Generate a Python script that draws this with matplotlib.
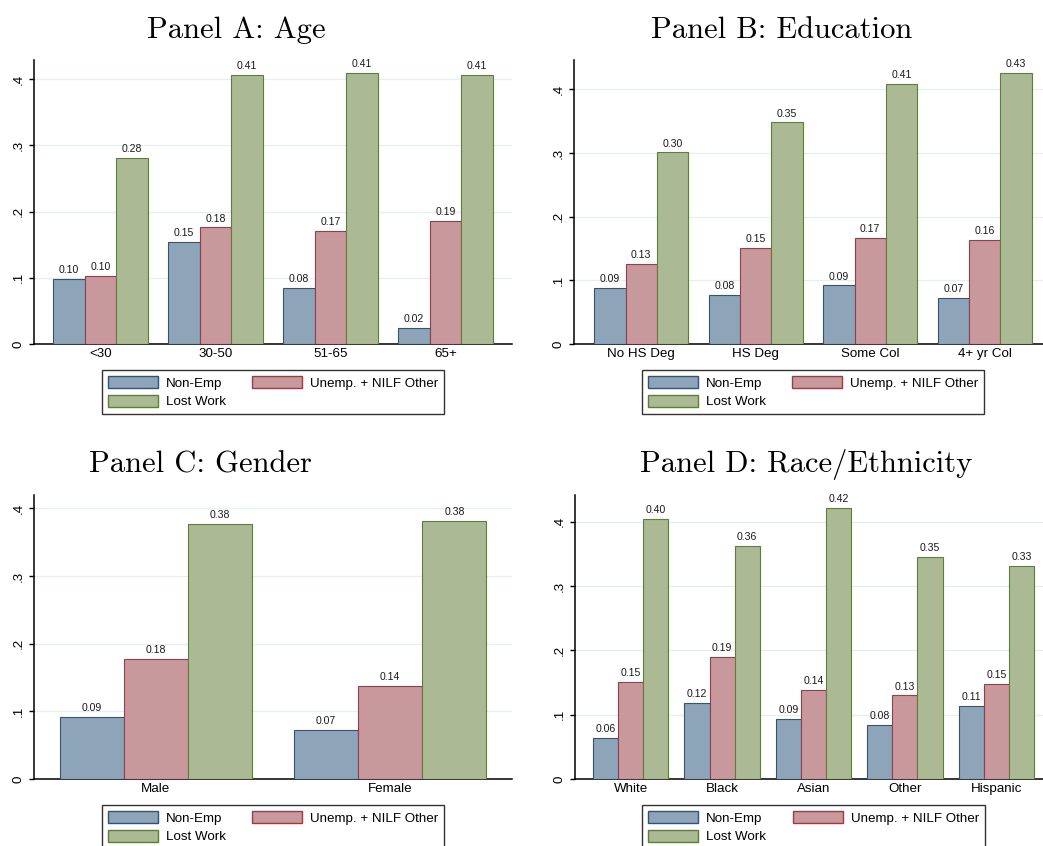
import matplotlib
matplotlib.use("Agg")
import matplotlib.pyplot as plt
from matplotlib.patches import Patch
import numpy as np

# shares by group: non-employed, unemployed + NILF other, lost work
age_labels = ["<30", "30-50", "51-65", "65+"]
age_nonemp = [0.098, 0.154, 0.084, 0.024]
age_unemp = [0.103, 0.176, 0.170, 0.186]
age_lost = [0.281, 0.406, 0.409, 0.406]

edu_labels = ["No HS Deg", "HS Deg", "Some Col", "4+ yr Col"]
edu_nonemp = [0.088, 0.077, 0.092, 0.072]
edu_unemp = [0.126, 0.151, 0.166, 0.163]
edu_lost = [0.301, 0.348, 0.408, 0.426]

sex_labels = ["Male", "Female"]
sex_nonemp = [0.091, 0.073]
sex_unemp = [0.177, 0.137]
sex_lost = [0.376, 0.381]

race_labels = ["White", "Black", "Asian", "Other", "Hispanic"]
race_nonemp = [0.064, 0.118, 0.094, 0.084, 0.113]
race_unemp = [0.151, 0.190, 0.138, 0.130, 0.148]
race_lost = [0.404, 0.363, 0.421, 0.346, 0.332]

series_names = ["Non-Emp", "Unemp. + NILF Other", "Lost Work"]
fills = ["#8ea4b9", "#c8999c", "#abba94"]
edges = ["#2f5478", "#9e3a45", "#5a7f35"]

W, H = 1043, 846
fig = plt.figure(figsize=(W / 100, H / 100), dpi=100)
fig.patch.set_facecolor("white")


def px_axes(left, right, top, bottom):
    return fig.add_axes([left / W, 1 - bottom / H, (right - left) / W, (bottom - top) / H])


def panel(ax, cats, vals, xpad, ytop):
    n = len(cats)
    x = np.arange(n)
    bw = 0.274
    for k, (v, fc, ec) in enumerate(zip(vals, fills, edges)):
        xs = x + (k - 1) * bw
        ax.bar(xs, v, bw, color=fc, edgecolor=ec, linewidth=0.8, zorder=3)
        for xi, vi in zip(xs, v):
            ax.text(xi, vi + 0.006, f"{vi:.2f}", ha="center", va="bottom",
                    fontsize=7.6, family="Liberation Sans", color="#1a1a1a", zorder=4)
    ax.set_xlim(-xpad, n - 1 + xpad)
    ax.set_ylim(0, ytop)
    ax.set_yticks([0, 0.1, 0.2, 0.3, 0.4])
    ax.set_yticklabels(["0", ".1", ".2", ".3", ".4"], rotation=90, va="center")
    ax.set_xticks(x)
    ax.set_xticklabels(cats)
    for t in ax.get_xticklabels() + ax.get_yticklabels():
        t.set_family("Liberation Sans")
        t.set_fontsize(9.6)
    ax.tick_params(axis="x", length=0, pad=3)
    ax.tick_params(axis="y", length=3.6, width=1, pad=3)
    ax.yaxis.grid(True, color="#e6eeee", linewidth=0.9, zorder=0)
    ax.set_axisbelow(True)
    for s in ["top", "right"]:
        ax.spines[s].set_visible(False)
    for s in ["left", "bottom"]:
        ax.spines[s].set_linewidth(1.1)
        ax.spines[s].set_color("black")

    handles = [Patch(facecolor=fills[0], edgecolor=edges[0], linewidth=1, label=series_names[0]),
               Patch(facecolor=fills[2], edgecolor=edges[2], linewidth=1, label=series_names[2]),
               Patch(facecolor=fills[1], edgecolor=edges[1], linewidth=1, label=series_names[1])]
    leg = ax.legend(handles=handles, ncol=2, loc="upper center", bbox_to_anchor=(0.5, -0.0915),
                    frameon=True, fancybox=False, framealpha=1, edgecolor="#333333",
                    borderaxespad=0, borderpad=0.45, handlelength=3.75, handleheight=1.0,
                    handletextpad=0.6, columnspacing=2.0, labelspacing=0.4,
                    prop={"family": "Liberation Sans", "size": 9.6})
    leg.get_frame().set_linewidth(1.0)


ax_a = px_axes(34, 512, 60, 344)
panel(ax_a, age_labels, [age_nonemp, age_unemp, age_lost], 0.58, 0.429)

ax_b = px_axes(574, 1052, 60, 344)
panel(ax_b, edu_labels, [edu_nonemp, edu_unemp, edu_lost], 0.588, 0.446)

ax_c = px_axes(34, 512, 495, 779)
panel(ax_c, sex_labels, [sex_nonemp, sex_unemp, sex_lost], 0.52, 0.4195)

ax_d = px_axes(575, 1052, 495, 779)
panel(ax_d, race_labels, [race_nonemp, race_unemp, race_lost], 0.608, 0.4417)

titles = [("Panel A: Age", 236, 38), ("Panel B: Education", 782, 38),
          ("Panel C: Gender", 200, 472), ("Panel D: Race/Ethnicity", 806, 472)]
for txt, tx, ty in titles:
    fig.text(tx / W, 1 - ty / H, txt, ha="center", va="baseline",
             fontsize=22, family="cmr10", color="black")

fig.savefig("out.png", dpi=100, facecolor="white")
